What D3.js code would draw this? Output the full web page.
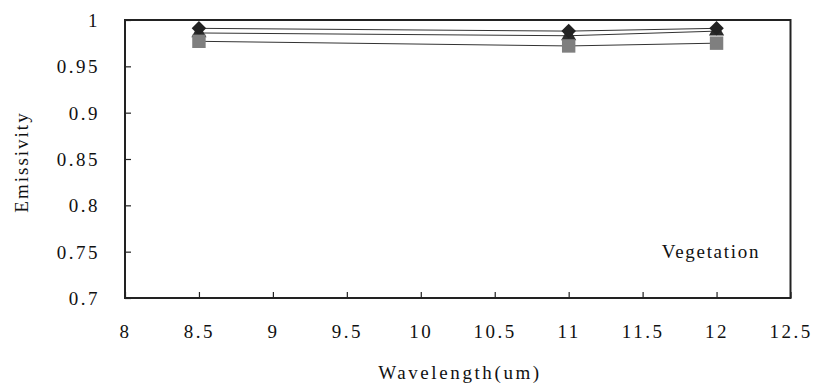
<!DOCTYPE html>
<html><head><meta charset="utf-8">
<script src="https://cdn.jsdelivr.net/npm/d3@7"></script>
<style>body{margin:0;background:#fff}svg{display:block}
svg text{font-family:"Liberation Serif","Times New Roman",Tinos,Times,"Noto Serif","DejaVu Serif",serif !important;fill:#111}</style>
</head><body><svg id="c" width="814" height="383"></svg>
<script>
const wavelengths = [8.5, 11, 12];
const seriesDiamond = [0.991, 0.988, 0.991];
const seriesTriangle = [0.986, 0.983, 0.988];
const seriesSquare = [0.977, 0.972, 0.975];
const xTicks = [8, 8.5, 9, 9.5, 10, 10.5, 11, 11.5, 12, 12.5];
const yTicks = [0.7, 0.75, 0.8, 0.85, 0.9, 0.95, 1];
const xTitle = "Wavelength(um)";
const yTitle = "Emissivity";
const note = "Vegetation";

const svg = d3.select("#c");
const L = 125, R = 790.5, T = 20, B = 298;
const x = d3.scaleLinear().domain([8, 12.5]).range([L, R]);
const y = d3.scaleLinear().domain([0.7, 1]).range([B, T]);

const xAxis = svg.append("g").attr("transform", `translate(0,${B})`)
  .call(d3.axisBottom(x).tickValues(xTicks).tickSize(-6).tickPadding(26).tickFormat(d => String(d)));
const yAxis = svg.append("g").attr("transform", `translate(${L},0)`)
  .call(d3.axisLeft(y).tickValues(yTicks).tickSize(-6).tickPadding(26).tickFormat(d => String(d)));
[xAxis, yAxis].forEach(a => {
  a.attr("font-family", null);
  a.select(".domain").remove();
  a.selectAll("line").attr("stroke", "#222").attr("stroke-width", 1.2);
  a.selectAll("text").attr("font-size", 19).style("letter-spacing", "2.5px").attr("fill", "#111");
});
xAxis.selectAll("text").attr("dy", null).attr("y", 40);
yAxis.selectAll("text").attr("x", -25).attr("dy", "0.35em");

svg.append("rect").attr("x", L).attr("y", T).attr("width", R - L).attr("height", B - T)
  .attr("fill", "none").attr("stroke", "#222").attr("stroke-width", 2);

const line = d3.line().x((d, i) => x(wavelengths[i])).y(d => y(d));
const series = [
  {vals: seriesTriangle, sym: d3.symbolTriangle, size: 100, color: "#2a2a2a"},
  {vals: seriesDiamond, sym: d3.symbolDiamond2, size: 135, color: "#222"},
  {vals: seriesSquare, sym: d3.symbolSquare, size: 180, color: "#7f7f7f"}
];
series.forEach(s => {
  svg.append("path").attr("d", line(s.vals)).attr("fill", "none")
    .attr("stroke", "#333").attr("stroke-width", 1);
});
series.forEach(s => {
  svg.selectAll(null).data(s.vals).enter().append("path")
    .attr("transform", (d, i) => `translate(${x(wavelengths[i])},${y(d)})`)
    .attr("d", d3.symbol().type(s.sym).size(s.size)())
    .attr("fill", s.color);
});

svg.append("text").attr("x", 711).attr("y", 258).attr("text-anchor", "middle")
  .attr("font-size", 19).style("letter-spacing", "1.7px").text(note);
svg.append("text").attr("x", 460).attr("y", 379).attr("text-anchor", "middle")
  .attr("font-size", 19).style("letter-spacing", "2.6px").text(xTitle);
svg.append("text").attr("transform", "translate(28,162) rotate(-90)").attr("text-anchor", "middle")
  .attr("font-size", 19).style("letter-spacing", "2px").text(yTitle);
</script></body></html>
